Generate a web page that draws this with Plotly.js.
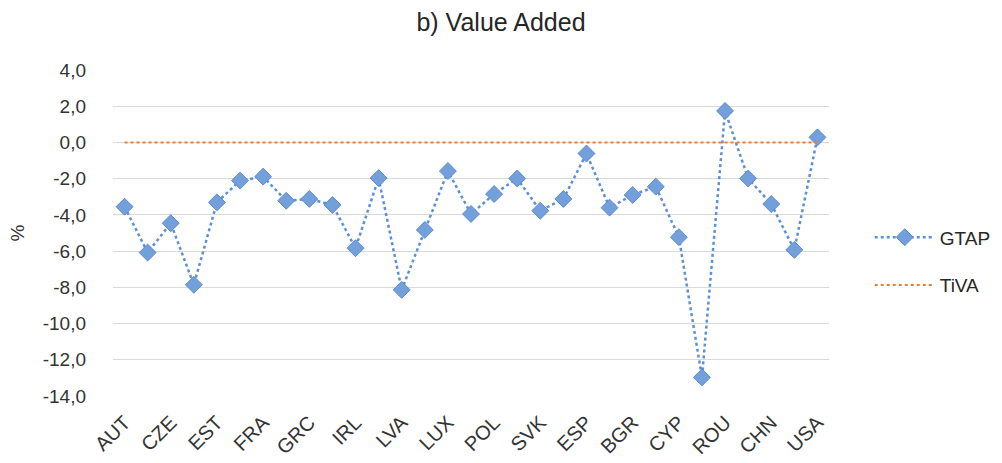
<!DOCTYPE html>
<html>
<head>
<meta charset="utf-8">
<script src="https://cdn.plot.ly/plotly-3.0.1.min.js"></script>
<style>html,body{margin:0;padding:0;background:#fff;}#chart{width:1002px;height:463px;}</style>
</head>
<body>
<div id="chart"></div>
<script>
const categories = ["AUT","BEL","CZE","DNK","EST","FIN","FRA","DEU","GRC","HUN","IRL","ITA","LVA","LTU","LUX","NLD","POL","PRT","SVK","SVN","ESP","SWE","BGR","HRV","CYP","MLT","ROU","BRA","CHN","JPN","USA"];
const tickLabels = ["AUT","CZE","EST","FRA","GRC","IRL","LVA","LUX","POL","SVK","ESP","BGR","CYP","ROU","CHN","USA"];
const gtap = [-3.55,-6.08,-4.46,-7.86,-3.31,-2.11,-1.89,-3.22,-3.12,-3.45,-5.84,-1.97,-8.14,-4.83,-1.58,-3.95,-2.85,-1.99,-3.77,-3.12,-0.61,-3.6,-2.9,-2.44,-5.23,-12.97,1.74,-1.99,-3.4,-5.93,0.28];
const tiva = [0,0,0,0,0,0,0,0,0,0,0,0,0,0,0,0,0,0,0,0,0,0,0,0,0,0,0,0,0,0,0];
const yTicks = [4,2,0,-2,-4,-6,-8,-10,-12,-14];
const yTickText = yTicks.map(v => v.toFixed(1).replace('.', ','));

const traces = [
  {x: categories, y: gtap, name: "GTAP", type: "scatter", mode: "lines+markers", legendgroup: "a",
   line: {color: "#5b8fd6", width: 2.5, dash: "dot"},
   marker: {symbol: "diamond", size: 13, color: "#739fdb", line: {color: "#5b8bd0", width: 1}}},
  {x: categories, y: tiva, name: "TiVA", type: "scatter", mode: "lines", legendgroup: "b",
   line: {color: "#ed7d31", width: 2, dash: "dot"}}
];

const layout = {
  width: 1002, height: 463,
  margin: {l: 113, r: 173, t: 70, b: 67, autoexpand: false},
  paper_bgcolor: "#fff", plot_bgcolor: "#fff",
  font: {family: "Liberation Sans, Arial, sans-serif", color: "#333333", size: 19},
  title: {text: "b) Value Added", x: 0.5, xref: "container", xanchor: "center", y: 0.952, yanchor: "middle",
          font: {size: 25, color: "#262626"}},
  xaxis: {type: "category", range: [-0.5, 30.5], tickvals: tickLabels, ticktext: tickLabels,
          tickangle: -45, showgrid: false, zeroline: false, showline: false, ticks: "",
          ticklabelstandoff: 10,
          tickfont: {size: 20, color: "#333333"}},
  yaxis: {range: [-14, 4], tickvals: yTicks, ticktext: yTickText, showgrid: true,
          gridcolor: "#d9d9d9", gridwidth: 1, zeroline: false, showline: false, ticks: "",
          ticklabelstandoff: 26,
          tickfont: {size: 19, color: "#333333"},
          title: {text: "%", font: {size: 19, color: "#333333"}, standoff: 13}},
  legend: {xref: "container", x: 0.868, y: 0.545, xanchor: "left", yanchor: "top", traceorder: "grouped",
           tracegroupgap: 20, font: {size: 19, color: "#262626"}, itemwidth: 60},
  showlegend: true
};

Plotly.newPlot("chart", traces, layout, {displayModeBar: false, staticPlot: true});
</script>
</body>
</html>
